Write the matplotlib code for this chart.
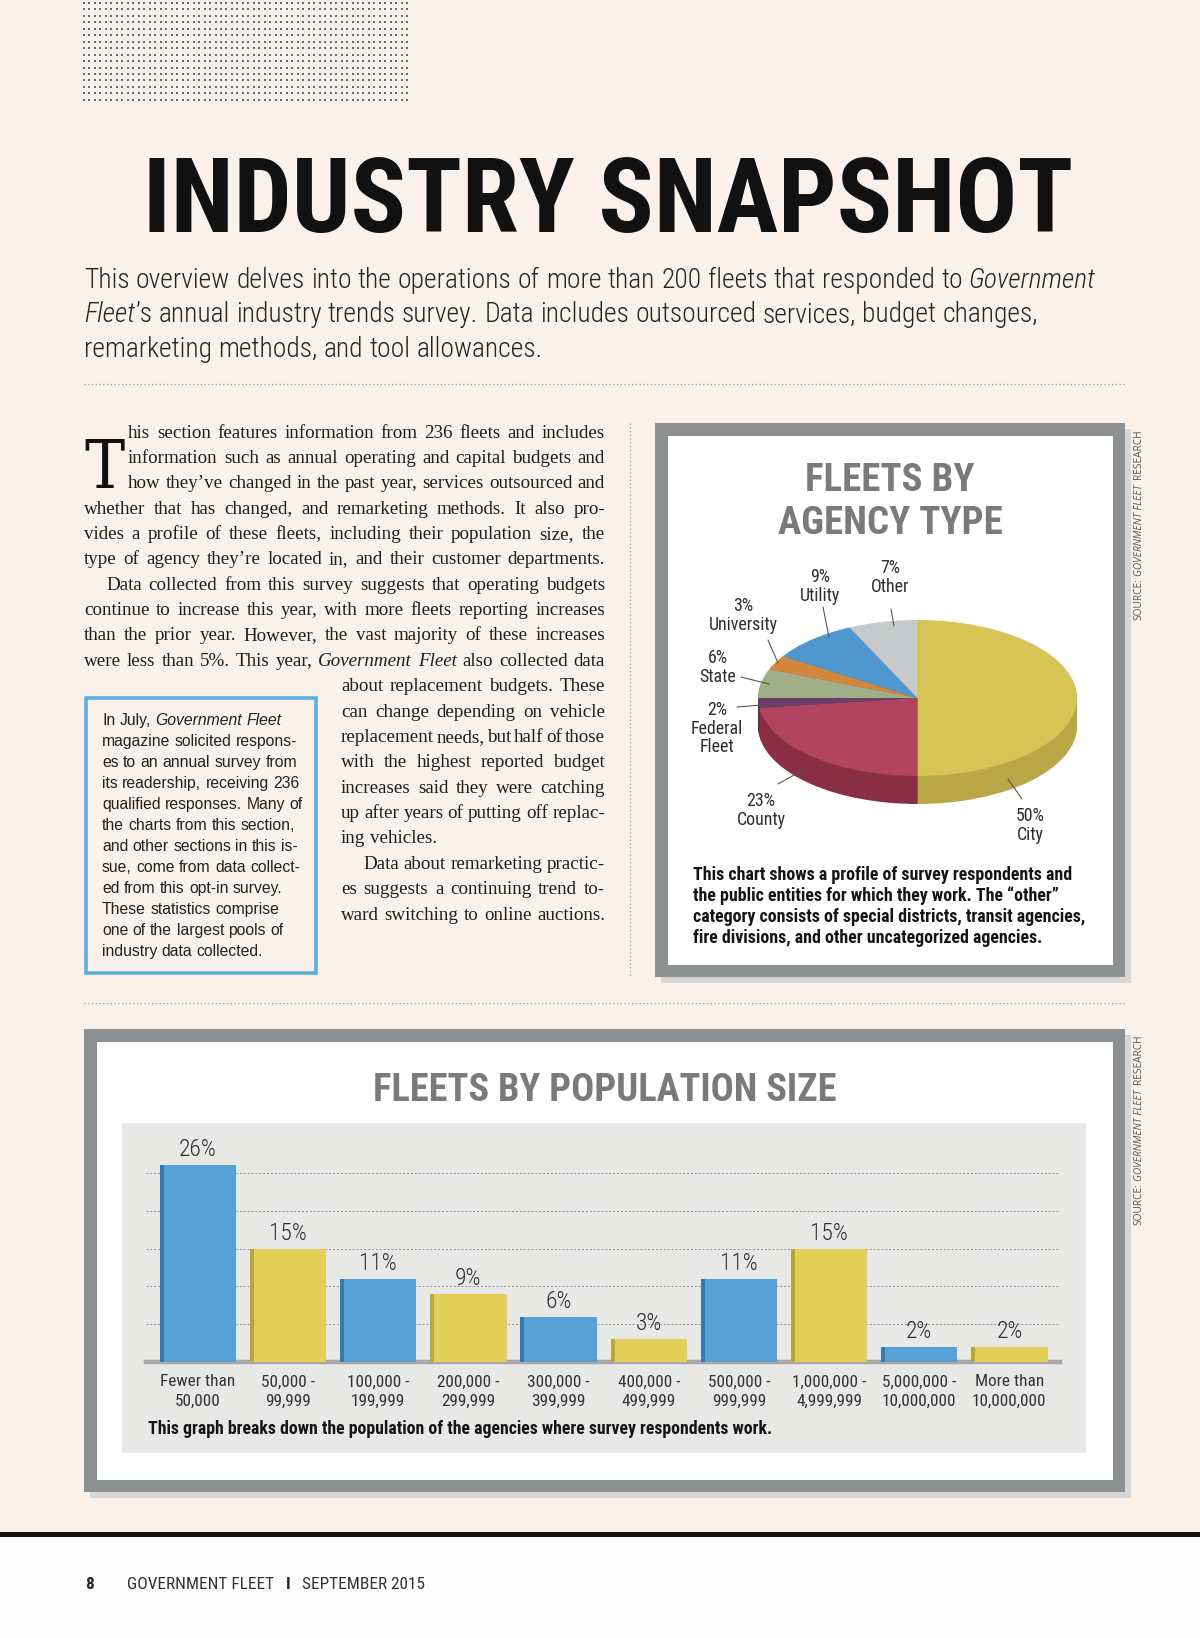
import os
import numpy as np
import matplotlib
matplotlib.use('Agg')
import matplotlib.pyplot as plt
from matplotlib import font_manager as fm
from matplotlib.patches import Rectangle

# ---------------- data ----------------
agency_types = ['City', 'County', 'Federal\nFleet', 'State', 'University', 'Utility', 'Other']
agency_share = [50, 23, 2, 6, 3, 9, 7]

pop_labels = ['Fewer than\n50,000', '50,000 -\n99,999', '100,000 -\n199,999',
              '200,000 -\n299,999', '300,000 -\n399,999', '400,000 -\n499,999',
              '500,000 -\n999,999', '1,000,000 -\n4,999,999', '5,000,000 -\n10,000,000',
              'More than\n10,000,000']
pop_share = [26, 15, 11, 9, 6, 3, 11, 15, 2, 2]
grid_ticks = [5, 10, 15, 20, 25]

title_text = 'INDUSTRY SNAPSHOT'
subtitle_lines = [
    'This overview delves into the operations of more than 200 fleets that responded to *Government*',
    '*Fleet*\u2019s annual industry trends survey. Data includes outsourced services, budget changes,',
    'remarketing methods, and tool allowances.',
]
drop_cap = 'T'
body_lines = [
    'his section features information from 236 fleets and includes',
    'information such as annual operating and capital budgets and',
    'how they\u2019ve changed in the past year, services outsourced and',
    'whether that has changed, and remarketing methods. It also pro-',
    'vides a profile of these fleets, including their population size, the',
    'type of agency they\u2019re located in, and their customer departments.',
    'Data collected from this survey suggests that operating budgets',
    'continue to increase this year, with more fleets reporting increases',
    'than the prior year. However, the vast majority of these increases',
    'were less than 5%. This year, *Government Fleet* also collected data',
    'about replacement budgets. These',
    'can change depending on vehicle',
    'replacement needs, but half of those',
    'with the highest reported budget',
    'increases said they were catching',
    'up after years of putting off replac-',
    'ing vehicles.',
    'Data about remarketing practic-',
    'es suggests a continuing trend to-',
    'ward switching to online auctions.',
]
sidebar_lines = [
    'In July, *Government Fleet*',
    'magazine solicited respons-',
    'es to an annual survey from',
    'its readership, receiving 236',
    'qualified responses. Many of',
    'the charts from this section,',
    'and other sections in this is-',
    'sue, come from data collect-',
    'ed from this opt-in survey.',
    'These statistics comprise',
    'one of the largest pools of',
    'industry data collected.',
]
pie_title = ['FLEETS BY', 'AGENCY TYPE']
pie_caption = [
    'This chart shows a profile of survey respondents and',
    'the public entities for which they work. The \u201cother\u201d',
    'category consists of special districts, transit agencies,',
    'fire divisions, and other uncategorized agencies.',
]
bar_title = 'FLEETS BY POPULATION SIZE'
bar_caption = 'This graph breaks down the population of the agencies where survey respondents work.'
source_runs = [('SOURCE:', False), ('GOVERNMENT FLEET', True), ('RESEARCH', False)]
footer_page = '8'
footer_mag = 'GOVERNMENT FLEET'
footer_date = 'SEPTEMBER 2015'

# ---------------- fonts ----------------
_files = {}
for _f in fm.fontManager.ttflist:
    _files.setdefault(os.path.splitext(os.path.basename(_f.fname))[0].lower(), _f.fname)


def pick(cands, fallback):
    for c in cands:
        p = _files.get(c.lower())
        if p:
            return fm.FontProperties(fname=p)
    return fallback


F_HEAVY = pick(['NotoSans-ExtraCondensedBold', 'NotoSans-ExtraCondensedExtraBold',
                'RobotoCondensed-Bold', 'LiberationSansNarrow-Bold', 'NotoSans-CondensedBold',
                'DejaVuSansCondensed-Bold', 'OpenSans-CondBold'],
               fm.FontProperties(family='Roboto', weight='bold'))
F_BOLD = pick(['RobotoCondensed-Bold', 'NotoSans-CondensedBold', 'LiberationSansNarrow-Bold',
               'NotoSans-SemiCondensedBold', 'DejaVuSansCondensed-Bold', 'OpenSans-CondBold'],
              fm.FontProperties(family='Roboto', weight='bold'))
F_LIGHT = pick(['RobotoCondensed-Light', 'NotoSans-CondensedLight', 'NotoSans-ExtraCondensedLight',
                'RobotoCondensed-Regular', 'LiberationSansNarrow-Regular', 'NotoSans-Condensed',
                'DejaVuSansCondensed', 'OpenSans-CondLight'],
               fm.FontProperties(family='Roboto', weight='light'))
F_LIGHT_IT = pick(['RobotoCondensed-LightItalic', 'NotoSans-CondensedLightItalic',
                   'RobotoCondensed-Italic', 'LiberationSansNarrow-Italic',
                   'NotoSans-CondensedItalic', 'DejaVuSansCondensed-Oblique',
                   'OpenSans-CondLightItalic'],
                  fm.FontProperties(family='Roboto', weight='light', style='italic'))
F_REG = pick(['RobotoCondensed-Regular', 'NotoSans-Condensed', 'LiberationSansNarrow-Regular',
              'DejaVuSansCondensed'],
             fm.FontProperties(family='Roboto'))
F_SERIF = fm.FontProperties(family='Liberation Serif')
F_SERIF_IT = fm.FontProperties(family='Liberation Serif', style='italic')
F_CAP = pick(['NotoSerif-ExtraCondensed', 'NotoSerif-Condensed', 'DejaVuSerifCondensed',
              'NotoSerif-SemiCondensed'], F_SERIF)
F_SANS = fm.FontProperties(family='Liberation Sans')
F_SANS_IT = fm.FontProperties(family='Liberation Sans', style='italic')
F_SRC = fm.FontProperties(family='Open Sans')
F_SRC_IT = fm.FontProperties(family='Open Sans', style='italic')

# ---------------- figure ----------------
W, H = 1200, 1638
PAGE = '#faf1eb'
fig = plt.figure(figsize=(12, 16.38), dpi=100)
fig.patch.set_facecolor(PAGE)
page = fig.add_axes([0, 0, 1, 1])
page.set_xlim(0, W)
page.set_ylim(H, 0)
page.axis('off')
renderer = fig.canvas.get_renderer()


def sized(fp, size):
    f = fp.copy()
    f.set_size(size)
    return f


def tw(s, fp, size):
    w, h, d = renderer.get_text_width_height_descent(s, sized(fp, size), ismath=False)
    return w


def th(s, fp, size):
    w, h, d = renderer.get_text_width_height_descent(s, sized(fp, size), ismath=False)
    return h - d


def space(fp, size):
    return tw('n n', fp, size) - tw('nn', fp, size)


def fit(s, fp, target, base=20.0):
    return base * target / tw(s, fp, base)


def parse(line):
    words, cur, buf, ital = [], [], '', False
    for ch in line:
        if ch == '*':
            if buf:
                cur.append((buf, ital))
                buf = ''
            ital = not ital
        elif ch == ' ':
            if buf:
                cur.append((buf, ital))
                buf = ''
            if cur:
                words.append(cur)
                cur = []
        else:
            buf += ch
    if buf:
        cur.append((buf, ital))
    if cur:
        words.append(cur)
    return words


def line_width(line, fpR, fpI, size, space_factor=1.0):
    words = parse(line)
    tot = sum(tw(t, fpI if it else fpR, size) for w in words for t, it in w)
    return tot + space(fpR, size) * space_factor * (len(words) - 1)


def draw_line(x0, y, line, fpR, fpI, size, color, target=None):
    words = parse(line)
    ws = [[tw(t, fpI if it else fpR, size) for t, it in w] for w in words]
    tot = sum(sum(a) for a in ws)
    gap = space(fpR, size)
    if target is not None and len(words) > 1:
        gap = (target - tot) / (len(words) - 1)
    x = x0
    for w, wl in zip(words, ws):
        for (t, it), a in zip(w, wl):
            page.text(x, y, t, fontproperties=sized(fpI if it else fpR, size), color=color,
                      ha='left', va='baseline')
            x += a
        x += gap


# ---------------- halftone dot block ----------------
dx, dy = np.meshgrid(np.arange(84, 412, 5.48), np.arange(3, 106, 6.45))
page.scatter(dx.ravel(), dy.ravel(), s=1.6, marker='s', color='#6a6a6a', linewidths=0)

# ---------------- title & subtitle ----------------
ts = fit(title_text, F_HEAVY, 930)
page.text(143, 232, title_text, fontproperties=sized(F_HEAVY, ts), color='#111111',
          ha='left', va='baseline')

ss = 20.0 * 1007 / line_width(subtitle_lines[0], F_LIGHT, F_LIGHT_IT, 20.0)
for i, ln in enumerate(subtitle_lines):
    draw_line(84, 288 + 34.5 * i, ln, F_LIGHT, F_LIGHT_IT, ss, '#262626')

dot_style = dict(ls=(0, (1, 2)), color='#9a9a9a', lw=0.9)
page.plot([84, 1125], [384, 384], **dot_style)
page.plot([84, 1125], [1003, 1003], **dot_style)
page.plot([630, 630], [423, 977], **dot_style)

# ---------------- body text ----------------
R = 605
layout = ([(128, True)] * 3 + [(84, True)] * 3 + [(106, True)] + [(84, True)] * 3 +
          [(341, True)] * 6 + [(341, False)] + [(363, True)] + [(341, True)] * 2)
just = [(ln, x0) for ln, (x0, j) in zip(body_lines, layout) if j]
r_norm = [line_width(ln, F_SERIF, F_SERIF_IT, 12.0, 1.0) / (R - x0) for ln, x0 in just]
r_tight = [line_width(ln, F_SERIF, F_SERIF_IT, 12.0, 0.6) / (R - x0) for ln, x0 in just]
bs = 12.0 / max(float(np.median(r_norm)), max(r_tight))
for i, (ln, (x0, j)) in enumerate(zip(body_lines, layout)):
    draw_line(x0, 437.5 + 25.37 * i, ln, F_SERIF, F_SERIF_IT, bs, '#1e1e1e',
              target=(R - x0) if j else None)
dcs = min(20.0 * 64 / th(drop_cap, F_CAP, 20.0), fit(drop_cap, F_CAP, 40))
page.text(84, 488, drop_cap, fontproperties=sized(F_CAP, dcs), color='#111111',
          ha='left', va='baseline')

# sidebar
page.add_patch(Rectangle((86, 698), 230, 275, fill=False, edgecolor='#5aaee2', lw=2.6))
sbs = fit(sidebar_lines[3], F_SANS, 196)
for i, ln in enumerate(sidebar_lines):
    draw_line(102, 724.6 + 21.04 * i, ln, F_SANS, F_SANS_IT, sbs, '#222222')


# ---------------- frames ----------------
def frame(x0, y0, x1, y1):
    page.add_patch(Rectangle((x0 + 6, y0 + 6), x1 - x0, y1 - y0, color='#d4d6d7', lw=0))
    page.add_patch(Rectangle((x0, y0), x1 - x0, y1 - y0, color='#8d9091', lw=0))
    page.add_patch(Rectangle((x0 + 12.5, y0 + 12.5), x1 - x0 - 25, y1 - y0 - 25,
                             color='white', lw=0))


frame(655, 423, 1125, 977)
frame(84, 1029, 1125, 1492)
page.add_patch(Rectangle((122, 1123), 964, 330, color='#e8e8e7', lw=0))


def source(xc, y_start):
    base = 20.0
    tot = sum(tw(t, F_SRC_IT if it else F_SRC, base) for t, it in source_runs)
    tot += 3 * space(F_SRC, base)
    size = base * 190 / tot
    sp = space(F_SRC, size)
    gaps = [sp, 2.0 * sp, 0]
    y = y_start
    for (t, it), g in zip(source_runs, gaps):
        f = sized(F_SRC_IT if it else F_SRC, size)
        txt = page.text(xc, y, t, fontproperties=f, color='#555555', rotation=90,
                        rotation_mode='default', ha='center', va='bottom')
        ext = txt.get_window_extent(renderer)
        y -= ext.height + g


source(1139, 620)
source(1139, 1225)

# ---------------- pie chart ----------------
cx, cy, rx, ry = 917.5, 698.0, 159.5, 78.0
pax = fig.add_axes([(cx - 1.25 * rx) / W, 1 - (cy + 1.7 * ry) / H, 2.5 * rx / W, 2.95 * ry / H])
pie_colors = ['#d6c455', '#b1445e', '#6a3f68', '#9fae86', '#d4853e', '#4f98cf', '#c8c9cb']
side_colors = ['#b8a744', '#8a2e47', '#4e2c4a', '#7d8b68', '#a86a30', '#3b77a3', '#a0a1a3']
depth = 28.0 / ry
for d in np.linspace(depth, 0.0, 30)[:-1]:
    pax.pie(agency_share, colors=side_colors, startangle=90, counterclock=False,
            center=(0, -d), wedgeprops=dict(linewidth=0))
pax.pie(agency_share, colors=pie_colors, startangle=90, counterclock=False,
        wedgeprops=dict(linewidth=0))
pax.set_aspect('auto')
pax.set_xlim(-1.25, 1.25)
pax.set_ylim(-1.7, 1.25)
pax.axis('off')

label_xy = [(1030, 816), (761, 801), (717, 710), (718, 658), (743, 606), (820, 577), (890, 568)]
leaders = [((1022, 799), (1008, 779)), ((778, 784), (803, 770)), ((737, 707), (762, 705)),
           ((741, 677), (769, 684)), ((768, 640), (778, 663)), ((823, 607), (829, 637)),
           ((891, 609), (894, 626))]
pls = fit('University', F_REG, 69)
for name, v, (lx, ly), (p0, p1) in zip(agency_types, agency_share, label_xy, leaders):
    lines = [f'{v}%'] + name.split('\n')
    for k, t in enumerate(lines):
        pax.text(lx, ly + 18.6 * k, t, transform=page.transData, fontproperties=sized(F_REG, pls),
                 color='#2e2e2e', ha='center', va='center')
    pax.annotate('', xy=p1, xycoords=page.transData, xytext=p0, textcoords=page.transData,
                 arrowprops=dict(arrowstyle='-', color='#555555', lw=0.8,
                                 shrinkA=0, shrinkB=0))

pts = fit(pie_title[1], F_HEAVY, 224)
for k, t in enumerate(pie_title):
    page.text(890, 491 + 42.5 * k, t, fontproperties=sized(F_HEAVY, pts), color='#7a7a7a',
              ha='center', va='baseline')
pcs = min(fit(t, F_BOLD, 392) for t in pie_caption)
for k, t in enumerate(pie_caption):
    page.text(693, 880 + 21 * k, t, fontproperties=sized(F_BOLD, pcs), color='#151515',
              ha='left', va='baseline')

# ---------------- bar chart ----------------
x0px, step, base_px, ppu = 197.9, 90.17, 1362.0, 7.56
bax = fig.add_axes([146 / W, 1 - base_px / H, (1060 - 146) / W, (base_px - 1140) / H])
bax.set_facecolor('none')
bax.set_xlim((146 - x0px) / step, (1060 - x0px) / step)
bax.set_ylim(0, (base_px - 1140) / ppu)
xs = np.arange(len(pop_share))
bw = 76.2 / step
bar_cols = ['#56a2d6' if i % 2 == 0 else '#e3cf57' for i in range(len(pop_share))]
bar_dark = ['#3a78ab' if i % 2 == 0 else '#b9a53e' for i in range(len(pop_share))]
bax.bar(xs, pop_share, width=bw, color=bar_cols, zorder=3, linewidth=0)
strip = 4.0 / step
bax.bar(xs - bw / 2 + strip / 2, pop_share, width=strip, color=bar_dark, zorder=4, linewidth=0)
bax.axhline(0, color='#a8a8a8', lw=3.2, zorder=2.5, clip_on=False)
bax.set_yticks(grid_ticks)
bax.yaxis.grid(True, linestyle=(0, (2, 2)), color='#8e8e8e', lw=0.7, zorder=1)
bax.set_axisbelow(True)
bax.tick_params(axis='y', length=0, labelleft=False)
for s in bax.spines.values():
    s.set_visible(False)
tks = fit('10,000,000', F_REG, 75)
bax.set_xticks(xs, pop_labels)
bax.tick_params(axis='x', length=0, pad=9)
for lbl in bax.get_xticklabels():
    lbl.set_fontproperties(sized(F_REG, tks))
    lbl.set_color('#333333')
    lbl.set_linespacing(1.32)
vls = fit('26%', F_LIGHT, 38)
for i, v in enumerate(pop_share):
    bax.annotate(f'{v}%', xy=(i, v), xytext=(0, 6.5), textcoords='offset points',
                 ha='center', va='baseline', fontproperties=sized(F_LIGHT, vls), color='#2e2e2e')

bts = fit(bar_title, F_HEAVY, 463)
page.text(604.5, 1101, bar_title, fontproperties=sized(F_HEAVY, bts), color='#7a7a7a',
          ha='center', va='baseline')
bcs = fit(bar_caption, F_BOLD, 622)
page.text(148, 1434, bar_caption, fontproperties=sized(F_BOLD, bcs), color='#151515',
          ha='left', va='baseline')

# ---------------- footer ----------------
page.add_patch(Rectangle((0, 1537), W, H - 1537, color='#fdfdfd', lw=0))
page.add_patch(Rectangle((0, 1531.5), W, 5.5, color='#111111', lw=0))
fs = fit(footer_mag, F_REG, 146)
page.text(85, 1589, footer_page, fontproperties=sized(F_BOLD, fs), color='#222222',
          ha='left', va='baseline')
page.text(127, 1589, footer_mag, fontproperties=sized(F_REG, fs), color='#333333',
          ha='left', va='baseline')
page.text(288.5, 1589, 'I', fontproperties=sized(F_BOLD, fs), color='#222222',
          ha='center', va='baseline')
page.text(302, 1589, footer_date, fontproperties=sized(F_REG, fs), color='#333333',
          ha='left', va='baseline')

fig.savefig('out.png', dpi=100, facecolor=fig.get_facecolor())
